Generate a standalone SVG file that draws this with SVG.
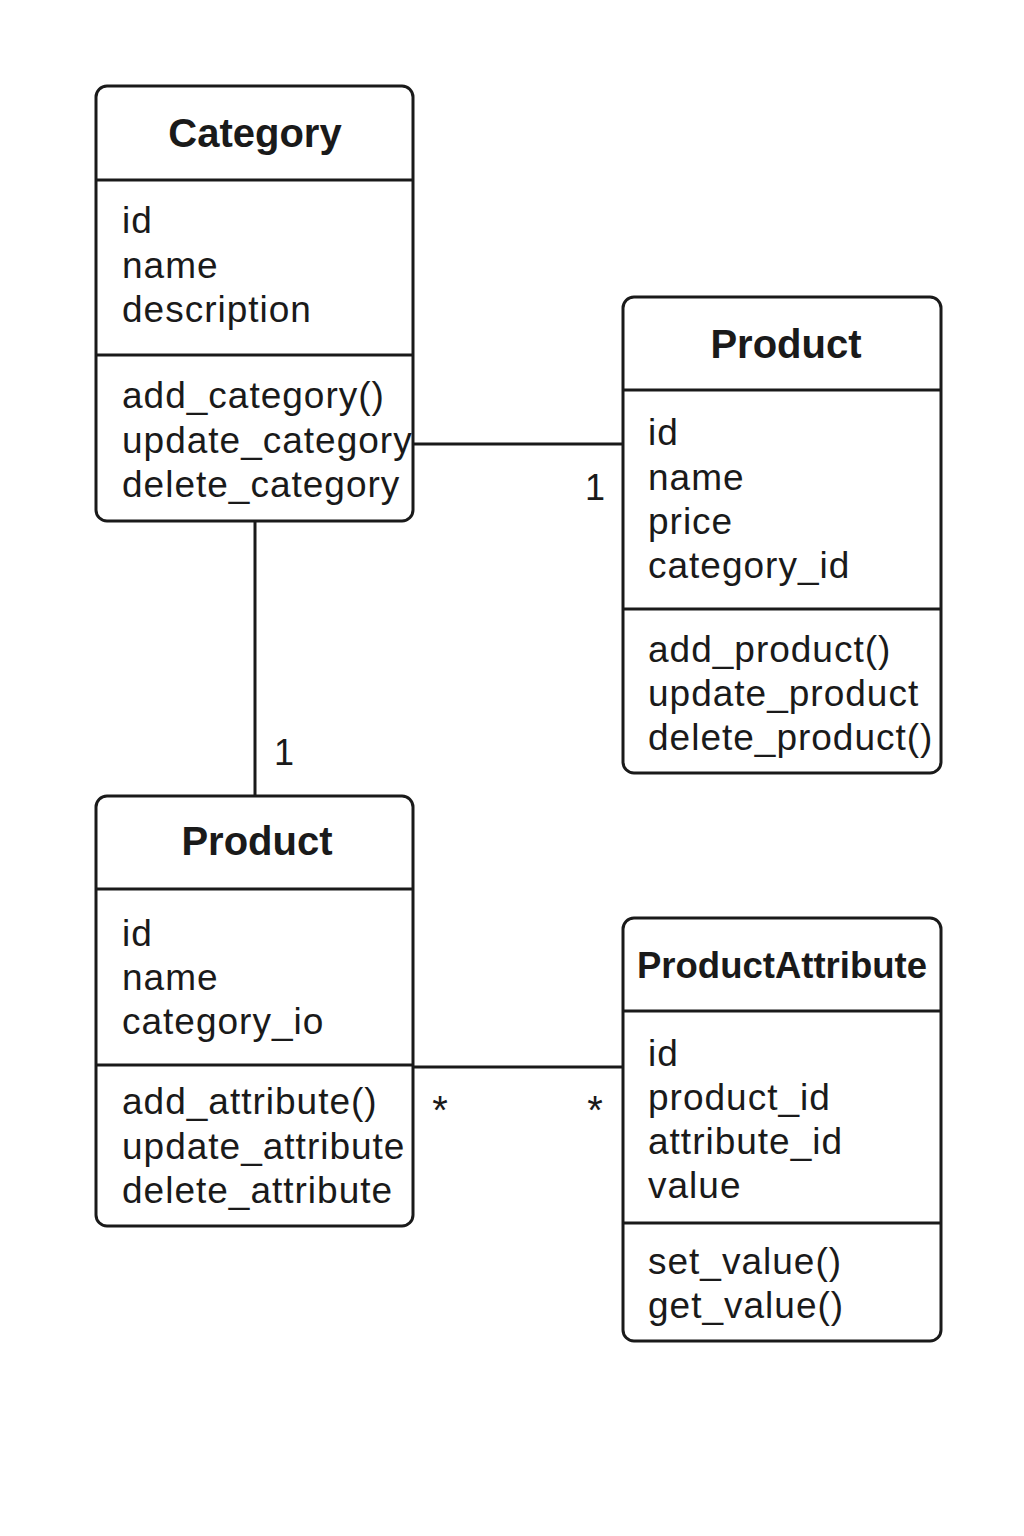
<svg xmlns="http://www.w3.org/2000/svg" width="1024" height="1536" viewBox="0 0 1024 1536">
<style>
.box{fill:#fff;stroke:#1a1a1a;stroke-width:3}
.div{stroke:#1a1a1a;stroke-width:3}
.title{font-family:"Liberation Sans",Arial,sans-serif;font-weight:bold;font-size:40px;fill:#1a1a1a;text-anchor:middle}
.t{font-family:"Liberation Sans",Arial,sans-serif;font-size:37px;fill:#1a1a1a;letter-spacing:1px}
.lbl{font-family:"Liberation Sans",Arial,sans-serif;font-size:36px;fill:#1a1a1a;text-anchor:middle}
.conn{stroke:#1a1a1a;stroke-width:3;fill:none}
</style>
<rect width="1024" height="1536" fill="#fff"/>
<g id="connectors">
<line class="conn" x1="413" y1="444" x2="623" y2="444"/>
<line class="conn" x1="255" y1="521" x2="255" y2="796"/>
<line class="conn" x1="413" y1="1067" x2="623" y2="1067"/>
<text class="lbl" x="595" y="500">1</text>
<text class="lbl" x="284" y="765">1</text>
<text class="lbl" x="440" y="1124" style="font-size:40px">*</text>
<text class="lbl" x="595" y="1124" style="font-size:40px">*</text>
</g>
<g id="category">
<rect class="box" x="96" y="86" width="317" height="435" rx="11"/>
<line class="div" x1="96" y1="180" x2="413" y2="180"/>
<line class="div" x1="96" y1="355" x2="413" y2="355"/>
<text class="title" x="255" y="147">Category</text>
<text class="t" x="122" y="233">id</text>
<text class="t" x="122" y="278">name</text>
<text class="t" x="122" y="322">description</text>
<text class="t" x="122" y="408">add_category()</text>
<text class="t" x="122" y="453">update_category</text>
<text class="t" x="122" y="497">delete_category</text>
</g>
<g id="product-right">
<rect class="box" x="623" y="297" width="318" height="476" rx="11"/>
<line class="div" x1="623" y1="390" x2="941" y2="390"/>
<line class="div" x1="623" y1="609" x2="941" y2="609"/>
<text class="title" x="786" y="358">Product</text>
<text class="t" x="648" y="445">id</text>
<text class="t" x="648" y="490">name</text>
<text class="t" x="648" y="534">price</text>
<text class="t" x="648" y="578">category_id</text>
<text class="t" x="648" y="662">add_product()</text>
<text class="t" x="648" y="706">update_product</text>
<text class="t" x="648" y="750">delete_product()</text>
</g>
<g id="product-left">
<rect class="box" x="96" y="796" width="317" height="430" rx="11"/>
<line class="div" x1="96" y1="889" x2="413" y2="889"/>
<line class="div" x1="96" y1="1065" x2="413" y2="1065"/>
<text class="title" x="257" y="855">Product</text>
<text class="t" x="122" y="946">id</text>
<text class="t" x="122" y="990">name</text>
<text class="t" x="122" y="1034">category_io</text>
<text class="t" x="122" y="1114">add_attribute()</text>
<text class="t" x="122" y="1159">update_attribute</text>
<text class="t" x="122" y="1203">delete_attribute</text>
</g>
<g id="product-attribute">
<rect class="box" x="623" y="918" width="318" height="423" rx="11"/>
<line class="div" x1="623" y1="1011" x2="941" y2="1011"/>
<line class="div" x1="623" y1="1223" x2="941" y2="1223"/>
<text class="title" x="782" y="978" style="font-size:36.5px">ProductAttribute</text>
<text class="t" x="648" y="1066">id</text>
<text class="t" x="648" y="1110">product_id</text>
<text class="t" x="648" y="1154">attribute_id</text>
<text class="t" x="648" y="1198">value</text>
<text class="t" x="648" y="1274">set_value()</text>
<text class="t" x="648" y="1318">get_value()</text>
</g>
</svg>
